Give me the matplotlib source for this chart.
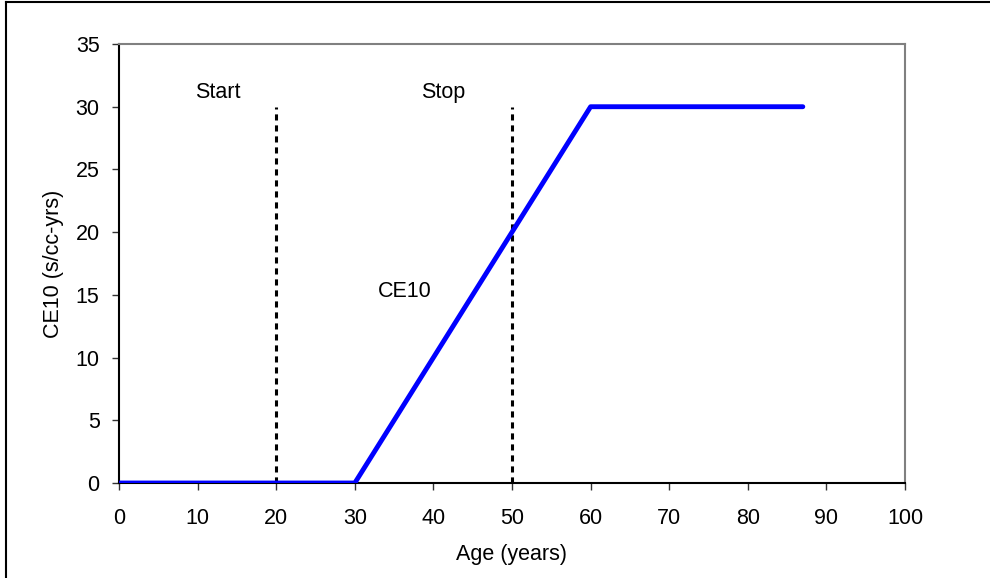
import matplotlib.pyplot as plt
from matplotlib.lines import Line2D

plt.rcParams['font.family'] = ['Liberation Sans', 'DejaVu Sans']

# data
age = [0, 30, 60, 87]
ce10 = [0, 0, 30, 30]
markers_x = [20, 50]
marker_top = 30
marker_labels = ["Start", "Stop"]
label_pos = [(12.6, 31.1), (41.3, 31.1)]
curve_label = "CE10"
curve_label_pos = (36.3, 15.3)

fs = 15.5

fig = plt.figure(figsize=(9.9, 5.78), dpi=100)
ax = fig.add_axes([119 / 990, 1 - 483 / 578, (905 - 119) / 990, (483 - 44) / 578])

ax.plot(age, ce10, color="#0000ff", linewidth=3.5, solid_capstyle="round",
        solid_joinstyle="round", zorder=3)

for x in markers_x:
    ax.plot([x, x], [0, marker_top], color="black", linewidth=2.2,
            linestyle=(0, (2.0, 1.6)), zorder=2)

for txt, (x, y) in zip(marker_labels, label_pos):
    ax.text(x, y, txt, fontsize=fs, ha="center", va="center")
ax.text(curve_label_pos[0], curve_label_pos[1], curve_label, fontsize=fs,
        ha="center", va="center")

ax.set_xlim(0, 100)
ax.set_ylim(0, 35)
ax.set_xticks(range(0, 101, 10))
ax.set_yticks(range(0, 36, 5))
ax.tick_params(direction="out", length=5, width=1, labelsize=fs, color="#333333")
ax.tick_params(axis="x", pad=13)
ax.tick_params(axis="y", pad=9)

ax.set_xlabel("Age (years)", fontsize=fs, labelpad=11)
ax.set_ylabel("CE10 (s/cc-yrs)", fontsize=fs, labelpad=8)

for side in ["left", "bottom"]:
    ax.spines[side].set_color("black")
    ax.spines[side].set_linewidth(1.5)
for side in ["top", "right"]:
    ax.spines[side].set_color("#808080")
    ax.spines[side].set_linewidth(1.5)

# outer frame of the figure
fig.add_artist(Line2D([6 / 990, 6 / 990], [0, 1 - 2 / 578], color="black", linewidth=1.5))
fig.add_artist(Line2D([6 / 990, 1], [1 - 2 / 578, 1 - 2 / 578], color="black", linewidth=1.5))

fig.savefig("out.png", dpi=100)
